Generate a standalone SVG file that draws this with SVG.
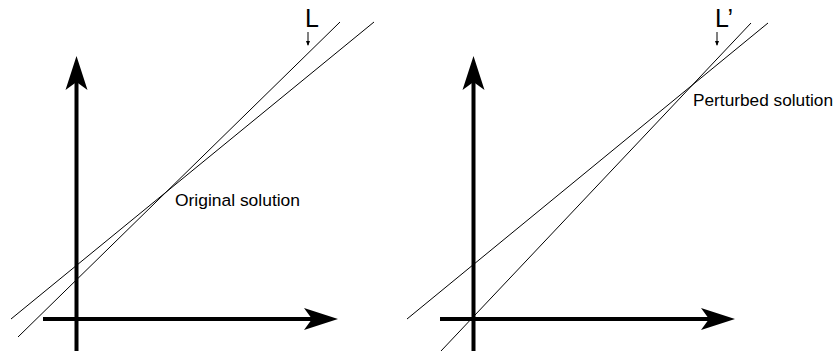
<svg xmlns="http://www.w3.org/2000/svg" width="837" height="351" viewBox="0 0 837 351">
<style>
.axis{stroke:#000;stroke-width:4;fill:none;marker-end:url(#big)}
.ln{stroke:#000;stroke-width:1;fill:none}
.ptr{stroke:#000;stroke-width:1;fill:none;marker-end:url(#small)}
.lbl{font-family:"Liberation Sans",Arial,sans-serif;fill:#000}
</style>
<defs>
<marker id="big" markerUnits="userSpaceOnUse" viewBox="-34 -12 36 24" refX="-26" refY="0" markerWidth="36" markerHeight="24" orient="auto">
<path d="M0,0 L-34,-11 L-26,0 L-34,11 Z" fill="#000"/>
</marker>
<marker id="small" markerUnits="userSpaceOnUse" viewBox="-5 -3 6 6" refX="-1" refY="0" markerWidth="6" markerHeight="6" orient="auto">
<path d="M0,0 L-5,-2 L-5,2 Z" fill="#000"/>
</marker>
</defs>
<g id="left-panel">
<g id="left-axes">
<line class="axis" x1="76.5" y1="351" x2="76.5" y2="82"/>
<line class="axis" x1="43" y1="319" x2="312" y2="319"/>
</g>
<g id="left-lines">
<line class="ln" x1="340" y1="22" x2="18" y2="337"/>
<line class="ln" x1="374" y1="22" x2="11" y2="319"/>
<line class="ptr" x1="308" y1="32" x2="308" y2="45"/>
</g>
<g id="label-L"><text class="lbl" x="305" y="27" font-size="25">L</text></g>
<g id="label-original"><text class="lbl" x="175" y="206" font-size="16.8" textLength="125" lengthAdjust="spacingAndGlyphs">Original solution</text></g>
</g>
<g id="right-panel">
<g id="right-axes">
<line class="axis" x1="473.5" y1="351" x2="473.5" y2="82"/>
<line class="axis" x1="440" y1="319" x2="709" y2="319"/>
</g>
<g id="right-lines">
<line class="ln" x1="751" y1="23" x2="441" y2="351"/>
<line class="ln" x1="768" y1="23" x2="407" y2="319"/>
<line class="ptr" x1="717" y1="32" x2="717" y2="45"/>
</g>
<g id="label-Lprime"><text class="lbl" x="715" y="27" font-size="25">L’</text></g>
<g id="label-perturbed"><text class="lbl" x="693" y="106" font-size="16.8" textLength="140" lengthAdjust="spacingAndGlyphs">Perturbed solution</text></g>
</g>
</svg>
